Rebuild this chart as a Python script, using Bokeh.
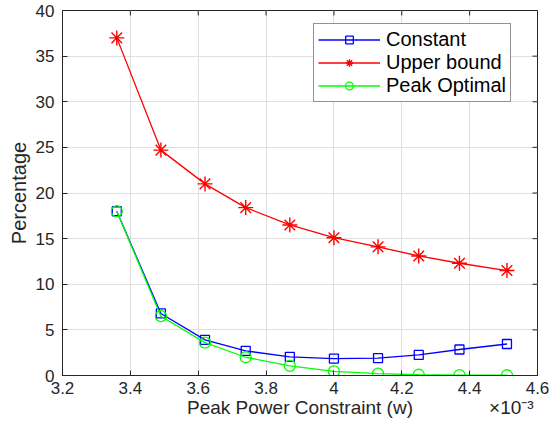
import math
from bokeh.plotting import figure
from bokeh.models import (Range1d, FixedTicker, Legend, LegendItem, LinearAxis)
from bokeh.embed import file_html
from bokeh.resources import INLINE

# ---- data (x in units of 1e-3 W) ----
power = [3.36, 3.49, 3.62, 3.74, 3.87, 4.00, 4.13, 4.25, 4.37, 4.51]
constant = [18.0, 6.8, 3.9, 2.7, 2.05, 1.86, 1.9, 2.25, 2.85, 3.45]
upper_bound = [37.0, 24.7, 21.0, 18.4, 16.5, 15.1, 14.1, 13.1, 12.3, 11.5]
peak_optimal = [18.0, 6.5, 3.6, 2.0, 1.06, 0.45, 0.2, 0.08, 0.05, 0.03]
x_ticks = [3.2, 3.4, 3.6, 3.8, 4.0, 4.2, 4.4, 4.6]
x_tick_labels = ["3.2", "3.4", "3.6", "3.8", "4", "4.2", "4.4", "4.6"]
y_ticks = [0, 5, 10, 15, 20, 25, 30, 35, 40]
series_names = ["Constant", "Upper bound", "Peak Optimal"]
x_label = "Peak Power Constraint (w)"
x_exponent = "\u00d710\u207b\u00b3"
y_label = "Percentage"

FONT = "Liberation Sans"
AX = "#262626"

p = figure(width=550, height=423, output_backend="svg", toolbar_location=None,
           x_range=Range1d(3.2, 4.6), y_range=Range1d(0, 40),
           min_border_left=62, min_border_right=13, min_border_top=10, min_border_bottom=48)
p.background_fill_color = "white"
p.border_fill_color = "white"
p.outline_line_color = AX
p.outline_line_width = 1

# axes
for ax in (p.xaxis[0], p.yaxis[0]):
    ax.major_tick_in = 5
    ax.major_tick_out = 0
    ax.minor_tick_line_color = None
    ax.axis_line_color = AX
    ax.major_tick_line_color = AX
    ax.major_label_text_color = AX
    ax.major_label_text_font = FONT
    ax.major_label_text_font_size = "17px"
    ax.major_label_text_font_style = "normal"
    ax.axis_label_text_font = FONT
    ax.axis_label_text_font_size = "20px"
    ax.axis_label_text_font_style = "normal"
    ax.axis_label_text_color = AX
p.xaxis[0].ticker = FixedTicker(ticks=x_ticks)
p.yaxis[0].ticker = FixedTicker(ticks=y_ticks)
p.xaxis[0].major_label_standoff = 6
p.xaxis[0].major_label_overrides = dict(zip(x_ticks, x_tick_labels))
p.yaxis[0].major_label_standoff = 8
p.yaxis[0].axis_label = y_label
p.yaxis[0].axis_label_standoff = 3

# second row under the x axis: axis title centred on the frame, exponent at the right
label_pos = [3.9, 4.523]
xa2 = LinearAxis(ticker=FixedTicker(ticks=label_pos),
                 major_label_overrides={label_pos[0]: x_label, label_pos[1]: x_exponent},
                 major_label_text_font=FONT, major_label_text_font_size="19px",
                 major_label_text_color=AX, major_label_standoff=0,
                 axis_line_color=None, major_tick_line_color=None, minor_tick_line_color=None,
                 major_tick_in=0, major_tick_out=0)
p.add_layout(xa2, "below")

p.xgrid.ticker = FixedTicker(ticks=x_ticks)
p.ygrid.ticker = FixedTicker(ticks=y_ticks)
p.grid.grid_line_color = "#dfdfdf"
p.grid.grid_line_width = 1

# inward box ticks on the top and right edges (tick positions from the tick lists)
p.ray(x=x_ticks, y=[40] * len(x_ticks), length=5, length_units="screen",
      angle=-math.pi / 2, line_color=AX, line_width=1)
p.ray(x=[4.6] * len(y_ticks), y=y_ticks, length=5, length_units="screen",
      angle=math.pi, line_color=AX, line_width=1)

# series
lw = 1.3
l1 = p.line(power, constant, line_color="#0000ff", line_width=lw)
m1 = p.scatter(power, constant, marker="square", size=9, line_color="#0000ff",
               fill_color=None, line_width=lw)
l2 = p.line(power, upper_bound, line_color="#ff0000", line_width=lw)
m2 = p.scatter(power, upper_bound, marker="asterisk", size=15, line_color="#ff0000",
               line_width=1.4)
l3 = p.line(power, peak_optimal, line_color="#00ff00", line_width=lw)
m3 = p.scatter(power, peak_optimal, marker="circle", size=11, line_color="#00ff00",
               fill_color=None, line_width=lw)

legend = Legend(items=[LegendItem(label=series_names[0], renderers=[l1, m1]),
                       LegendItem(label=series_names[1], renderers=[l2, m2]),
                       LegendItem(label=series_names[2], renderers=[l3, m3])],
                location=(251, 273))
legend.label_text_font = FONT
legend.label_text_font_size = "20px"
legend.label_text_color = "black"
legend.label_height = 19
legend.glyph_height = 19
legend.glyph_width = 62
legend.label_standoff = 6
legend.spacing = -2
legend.padding = 4
legend.margin = 0
legend.border_line_color = AX
legend.border_line_width = 1
legend.background_fill_color = "white"
legend.background_fill_alpha = 1
p.add_layout(legend, "center")

open("out.html", "w").write(file_html(p, INLINE))
